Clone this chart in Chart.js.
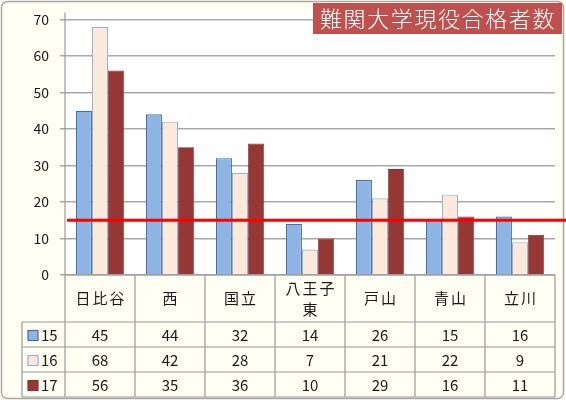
<!DOCTYPE html>
<html>
<head>
<meta charset="utf-8">
<script src="https://cdn.jsdelivr.net/npm/chart.js@4"></script>
<style>
  html, body { margin: 0; padding: 0; background: #fffff3; }
  canvas { display: block; }
</style>
</head>
<body>
<canvas id="chart" width="566" height="400"></canvas>
<script>
// data
const categories = ['日比谷', '西', '国立', ['八王子', '東'], '戸山', '青山', '立川'];
const seriesNames = ['15', '16', '17'];
const values15 = [45, 44, 32, 14, 26, 15, 16];
const values16 = [68, 42, 28, 7, 21, 22, 9];
const values17 = [56, 35, 36, 10, 29, 16, 11];
const yMax = 70;
const yStep = 10;
const targetValue = 15;
const chartTitle = '難関大学現役合格者数';

const fills = ['#8db4e2', '#fde9d9', '#953735'];
const borders = ['#4a6e9c', '#95b3d7', '#8a3230'];
const font = '"Noto Sans CJK JP", "Noto Sans", sans-serif';

// table rows below the plot
const headerBottom = 322;
const rowH = 25;

const framePlugin = {
  id: 'frame',
  beforeDraw(chart) {
    const ctx = chart.ctx;
    const a = chart.chartArea;
    ctx.save();
    ctx.fillStyle = '#fffff3';
    ctx.fillRect(0, 0, chart.width, chart.height);
    // outer border
    ctx.strokeStyle = '#a8a8a8';
    ctx.lineWidth = 1.5;
    ctx.beginPath();
    ctx.roundRect(1.5, 1.5, chart.width - 4, chart.height - 3, 6);
    ctx.stroke();
    // white plot background, a bit higher than 70
    ctx.fillStyle = '#ffffff';
    ctx.fillRect(a.left, a.top - 7, a.right - a.left, a.bottom - a.top + 7);
    ctx.restore();
  },
  afterDatasetsDraw(chart) {
    const ctx = chart.ctx;
    const a = chart.chartArea;
    const x = chart.scales.x;
    const y = chart.scales.y;
    const colW = (a.right - a.left) / categories.length;
    const tableBottom = headerBottom + rowH * seriesNames.length;
    ctx.save();

    // red reference line
    const ty = y.getPixelForValue(targetValue);
    ctx.strokeStyle = '#ff0000';
    ctx.lineWidth = 3;
    ctx.beginPath();
    ctx.moveTo(a.left + 2, ty);
    ctx.lineTo(chart.width, ty);
    ctx.stroke();

    // table grid
    ctx.strokeStyle = '#9a9a9a';
    ctx.lineWidth = 1.2;
    ctx.beginPath();
    ctx.moveTo(a.left, a.top - 7);
    ctx.lineTo(a.left, tableBottom);
    for (let i = 1; i <= categories.length; i++) {
      const cx = a.left + colW * i;
      ctx.moveTo(cx, a.bottom);
      ctx.lineTo(cx, tableBottom);
    }
    ctx.moveTo(a.left, a.bottom);
    ctx.lineTo(a.right, a.bottom);
    for (let r = 0; r <= seriesNames.length; r++) {
      const ry = headerBottom + rowH * r;
      ctx.moveTo(22, ry);
      ctx.lineTo(a.right, ry);
    }
    ctx.moveTo(22, headerBottom);
    ctx.lineTo(22, tableBottom);
    ctx.stroke();

    // category header labels
    ctx.fillStyle = '#1a1a1a';
    ctx.textAlign = 'center';
    ctx.textBaseline = 'middle';
    ctx.font = '15px ' + font;
    ctx.letterSpacing = '2px';
    const hMid = (a.bottom + headerBottom) / 2;
    categories.forEach((c, i) => {
      const cx = x.getPixelForValue(i) + 1;
      const lines = Array.isArray(c) ? c : [c];
      lines.forEach((t, k) => {
        ctx.fillText(t, cx, hMid + (k - (lines.length - 1) / 2) * 21);
      });
    });
    ctx.letterSpacing = '0px';

    // values and legend keys
    const rows = [values15, values16, values17];
    rows.forEach((vals, r) => {
      const ry = headerBottom + rowH * r + rowH / 2 + 1;
      ctx.fillStyle = fills[r];
      ctx.strokeStyle = borders[r];
      ctx.lineWidth = 1.2;
      ctx.fillRect(28, ry - 5, 10, 10);
      ctx.strokeRect(28, ry - 5, 10, 10);
      ctx.fillStyle = '#1a1a1a';
      ctx.font = '15px ' + font;
      ctx.textAlign = 'left';
      ctx.fillText(seriesNames[r], 41, ry);
      ctx.textAlign = 'center';
      vals.forEach((v, i) => {
        ctx.fillText(String(v), x.getPixelForValue(i), ry);
      });
    });

    // title box
    ctx.fillStyle = '#c0504d';
    ctx.fillRect(313, 3, 249, 31);
    ctx.font = '300 22px ' + font;
    ctx.letterSpacing = '1.6px';
    ctx.textAlign = 'left';
    ctx.textBaseline = 'middle';
    ctx.fillStyle = '#ffffff';
    ctx.fillText(chartTitle, 320, 19);
    ctx.restore();
  }
};

new Chart(document.getElementById('chart'), {
  type: 'bar',
  data: {
    labels: categories,
    datasets: [
      { label: seriesNames[0], data: values15, backgroundColor: fills[0], borderColor: borders[0], borderWidth: 1.2 },
      { label: seriesNames[1], data: values16, backgroundColor: fills[1], borderColor: borders[1], borderWidth: 1.2 },
      { label: seriesNames[2], data: values17, backgroundColor: fills[2], borderColor: borders[2], borderWidth: 0.8 }
    ]
  },
  options: {
    responsive: false,
    animation: false,
    datasets: { bar: { categoryPercentage: 0.69, barPercentage: 1.0 } },
    layout: { padding: { top: 18, right: 11, bottom: 125, left: 0 } },
    plugins: {
      legend: { display: false },
      title: { display: false },
      tooltip: { enabled: false }
    },
    scales: {
      x: { display: false },
      y: {
        min: 0,
        max: yMax,
        afterFit(s) { s.width = 65; },
        border: { display: false },
        grid: { color: '#a8a8a8', lineWidth: 1.5, tickLength: 5 },
        ticks: {
          stepSize: yStep,
          padding: 11,
          color: '#1a1a1a',
          font: { size: 14, family: font }
        }
      }
    }
  },
  plugins: [framePlugin]
});
</script>
</body>
</html>
